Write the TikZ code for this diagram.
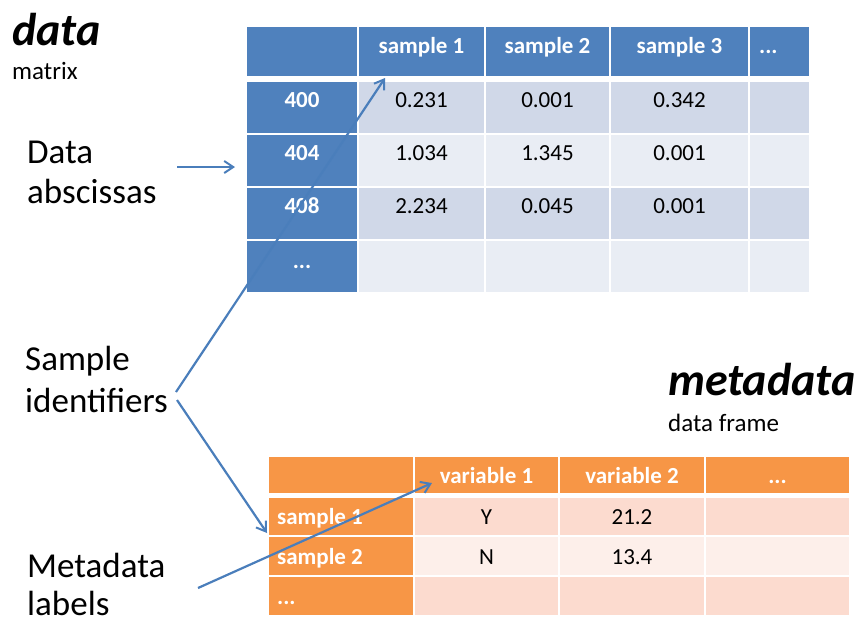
\documentclass[tikz,border=0pt]{standalone}
\usepackage{fontspec}
\setmainfont{Carlito}
\usetikzlibrary{arrows.meta}

\definecolor{hdblue}{HTML}{4F81BD}
\definecolor{banddark}{HTML}{D0D8E8}
\definecolor{bandlight}{HTML}{E9EDF4}
\definecolor{hdorange}{HTML}{F79646}
\definecolor{peachdark}{HTML}{FCDBCF}
\definecolor{peachlight}{HTML}{FDEFEA}
\definecolor{linkblue}{HTML}{4A7EBB}

\tikzset{
  cell/.style={draw=white, line width=1.2pt},
  headtext/.style={font=\fontsize{23}{27}\selectfont\bfseries, text=white, inner sep=0pt, anchor=base},
  celltext/.style={font=\fontsize{23}{27}\selectfont, inner sep=0pt, anchor=base},
  labeltext/.style={font=\fontsize{35}{41}\selectfont, inner sep=0pt, anchor=base west},
  titletext/.style={font=\fontsize{46}{50}\selectfont\bfseries\itshape, inner sep=0pt, anchor=base west},
  subtext/.style={font=\fontsize{25}{30}\selectfont, inner sep=0pt, anchor=base west},
  pointer/.style={draw=linkblue, line width=2.2pt, -{Straight Barb[length=9pt,width=12pt,line width=2pt]}},
}

\begin{document}
\begin{tikzpicture}[x=1pt,y=1pt,yscale=-1]
\useasboundingbox (0,0) rectangle (858,619);

% titles
\node[titletext] (dataT) at (12,45) {data};
\node[subtext] (dataS) at (12,79) {matrix};
\node[titletext] (metaT) at (668,395) {metadata};
\node[subtext] (metaS) at (668,431) {data frame};

% data matrix
\foreach \xa/\xb in {246/358,358/485,485/610,610/749,749/810}
  \filldraw[cell, fill=hdblue] (\xa,26) rectangle (\xb,77);
\foreach \ya/\yb/\band in {81/134/banddark,134/187/bandlight,187/240/banddark,240/293/bandlight} {
  \filldraw[cell, fill=hdblue] (246,\ya) rectangle (358,\yb);
  \foreach \xa/\xb in {358/485,485/610,610/749,749/810}
    \filldraw[cell, fill=\band] (\xa,\ya) rectangle (\xb,\yb);
}
\node[headtext] (smp1) at (421.5,53) {sample 1};
\node[headtext] (smp2) at (547.5,53) {sample 2};
\node[headtext] (smp3) at (679.5,53) {sample 3};
\node[headtext, anchor=base west] (smpX) at (759,53) {...};
\foreach \lab/\y [count=\i] in {400/107,404/160,408/213}
  \node[headtext] (ab\i) at (302,\y) {\lab};
\node[headtext] (abX) at (302,268) {...};
\foreach \va/\vb/\vc/\y [count=\i] in {0.231/0.001/0.342/107,1.034/1.345/0.001/160,2.234/0.045/0.001/213} {
  \node[celltext] (va\i) at (421.5,\y) {\va};
  \node[celltext] (vb\i) at (547.5,\y) {\vb};
  \node[celltext] (vc\i) at (679.5,\y) {\vc};
}

% metadata frame
\foreach \xa/\xb in {268/414,414/559,559/705,705/850}
  \filldraw[cell, fill=hdorange] (\xa,456) rectangle (\xb,494);
\foreach \ya/\yb/\band in {497/536/peachdark,536/576/peachlight,576/616/peachdark} {
  \filldraw[cell, fill=hdorange] (268,\ya) rectangle (414,\yb);
  \foreach \xa/\xb in {414/559,559/705,705/850}
    \filldraw[cell, fill=\band] (\xa,\ya) rectangle (\xb,\yb);
}
\node[headtext] (var1) at (486.5,483) {variable 1};
\node[headtext] (var2) at (632,483) {variable 2};
\node[headtext] (varX) at (777.5,483) {...};
\node[headtext, anchor=base west] (row1) at (277,524) {sample 1};
\node[headtext, anchor=base west] (row2) at (277,564) {sample 2};
\node[headtext, anchor=base west] (rowX) at (277,604) {...};
\node[celltext] (y1) at (486.5,524) {Y};
\node[celltext] (y2) at (486.5,564) {N};
\node[celltext] (z1) at (632,524) {21.2};
\node[celltext] (z2) at (632,564) {13.4};

% side labels
\node[labeltext] (absA) at (27,163) {Data};
\node[labeltext] (absB) at (27,203) {abscissas};
\node[labeltext] (idA) at (25,370) {Sample};
\node[labeltext] (idB) at (25,412) {identifiers};
\node[labeltext] (mlA) at (27,577) {Metadata};
\node[labeltext] (mlB) at (27,615) {labels};

% pointers
\coordinate (absTail) at (177,167);
\coordinate (absHead) at (235,167);
\coordinate (idTailA) at (176,392);
\coordinate (idHeadA) at (385,78);
\coordinate (idTailB) at (177,400);
\coordinate (idHeadB) at (267,533);
\coordinate (mlTail) at (198,588);
\coordinate (mlHead) at (432,483);
\draw[pointer] (absTail) -- (absHead);
\draw[pointer] (idTailA) -- (idHeadA);
\draw[pointer] (idTailB) -- (idHeadB);
\draw[pointer] (mlTail) -- (mlHead);
\end{tikzpicture}
\end{document}
